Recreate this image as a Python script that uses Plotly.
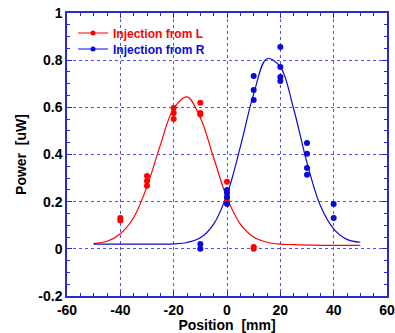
import plotly.graph_objects as go

# ---- data ----
# measured points, injection from L (red)
l_x = [-40, -40, -30, -30, -30, -20, -20, -20, -10, -10, -10, 0, 0, 0, 10, 10]
l_y = [0.131, 0.12, 0.309, 0.288, 0.267, 0.597, 0.576, 0.551, 0.619, 0.576, 0.57, 0.284, 0.216, 0.2, 0.008, 0.0]

# measured points, injection from R (blue)
r_x = [-10, -10, 0, 0, 0, 0, 10, 10, 10, 20, 20, 20, 20, 30, 30, 30, 30, 40, 40]
r_y = [0.02, 0.0, 0.25, 0.237, 0.22, 0.19, 0.733, 0.674, 0.631, 0.856, 0.771, 0.729, 0.712,
       0.449, 0.403, 0.343, 0.314, 0.19, 0.131]

# fit curves
fit_x = [-50, -45, -40, -35, -30, -25, -20, -15, -10, -5, 0, 5, 10, 15, 20, 25, 30, 35, 40, 45, 50]
fit_l = [0.023, 0.032, 0.064, 0.133, 0.264, 0.44, 0.595, 0.644, 0.556, 0.386, 0.216, 0.105, 0.05,
         0.028, 0.02, 0.018, 0.016, 0.015, 0.015, 0.015, 0.015]
fit_r = [0.02, 0.02, 0.02, 0.02, 0.02, 0.02, 0.021, 0.027, 0.047, 0.105, 0.23, 0.432, 0.657,
         0.806, 0.771, 0.593, 0.365, 0.184, 0.085, 0.04, 0.028]

x_ticks = [-60, -40, -20, 0, 20, 40, 60]
y_ticks = [-0.2, 0, 0.2, 0.4, 0.6, 0.8, 1]
y_tick_text = ["-0.2", "0", "0.2", "0.4", "0.6", "0.8", "1"]

RED = "#ff0000"
BLUE = "#0a0ad8"
AXIS = "#2a2ad0"
GRID = "#5050ee"

fig = go.Figure()
fig.add_trace(go.Scatter(x=fit_x, y=fit_l, mode="lines", line=dict(color=RED, width=1.2, shape="spline"),
                         showlegend=False, hoverinfo="skip"))
fig.add_trace(go.Scatter(x=fit_x, y=fit_r, mode="lines", line=dict(color=BLUE, width=1.2, shape="spline"),
                         showlegend=False, hoverinfo="skip"))
fig.add_trace(go.Scatter(x=l_x, y=l_y, mode="markers", marker=dict(color=RED, size=6), showlegend=False))
fig.add_trace(go.Scatter(x=r_x, y=r_y, mode="markers", marker=dict(color=BLUE, size=6), showlegend=False))

# legend entries
fig.add_trace(go.Scatter(x=[None], y=[None], mode="lines+markers", name="Injection from L",
                         line=dict(color=RED, width=1.2), marker=dict(color=RED, size=5), legend="legend"))
fig.add_trace(go.Scatter(x=[None], y=[None], mode="lines+markers", name="Injection from R",
                         line=dict(color=BLUE, width=1.2), marker=dict(color=BLUE, size=5), legend="legend2"))

L, R, T, B = 67, 8, 13, 37
W, H = 395, 333
pw, ph = W - L - R, H - T - B

def px_x(p):
    return (p - L) / pw

def px_y(p):
    return (H - B - p) / ph

axis_common = dict(
    showline=True, linecolor=AXIS, linewidth=1.5, mirror="allticks",
    ticks="inside", ticklen=5, tickcolor=AXIS, tickwidth=1,
    showgrid=True, gridcolor=GRID, griddash="dot", gridwidth=1,
    zeroline=False, automargin=False, ticklabeloverflow="allow",
    tickfont=dict(family="Liberation Sans", size=14, color="black", weight="bold"),
    minor=dict(ticks="inside", ticklen=3, tickcolor=AXIS, showgrid=False),
)

fig.update_layout(
    width=W, height=H,
    margin=dict(l=L, r=R, t=T, b=B, autoexpand=False),
    paper_bgcolor="white", plot_bgcolor="white",
    xaxis=dict(range=[-60, 60], tickvals=x_ticks, ticktext=[str(v) for v in x_ticks],
               title=dict(text="Position  [mm]", font=dict(family="Liberation Sans", size=14, color="black", weight="bold"),
                          standoff=6),
               **axis_common),
    yaxis=dict(range=[-0.2, 1], tickvals=y_ticks, ticktext=y_tick_text,
               title=dict(text="Power  [uW]", font=dict(family="Liberation Sans", size=14, color="black", weight="bold"),
                          standoff=8),
               **axis_common),
    legend=dict(x=px_x(73), y=px_y(33), xanchor="left", yanchor="middle", bgcolor="rgba(0,0,0,0)",
                font=dict(family="Liberation Sans", size=12, color=RED, weight="bold"), itemwidth=30),
    legend2=dict(x=px_x(73), y=px_y(49), xanchor="left", yanchor="middle", bgcolor="rgba(0,0,0,0)",
                 font=dict(family="Liberation Sans", size=12, color=BLUE, weight="bold"), itemwidth=30),
    shapes=[dict(type="rect", xref="paper", yref="paper", x0=0, x1=px_x(212), y0=px_y(63), y1=1,
                 fillcolor="white", line=dict(width=0), layer="between")],
)
fig.update_xaxes(minor_dtick=5)
fig.update_yaxes(minor_dtick=0.05)

fig.write_html("out.html", config={"displayModeBar": False},
               post_script="document.body.style.margin='0';document.body.style.overflow='hidden';")
